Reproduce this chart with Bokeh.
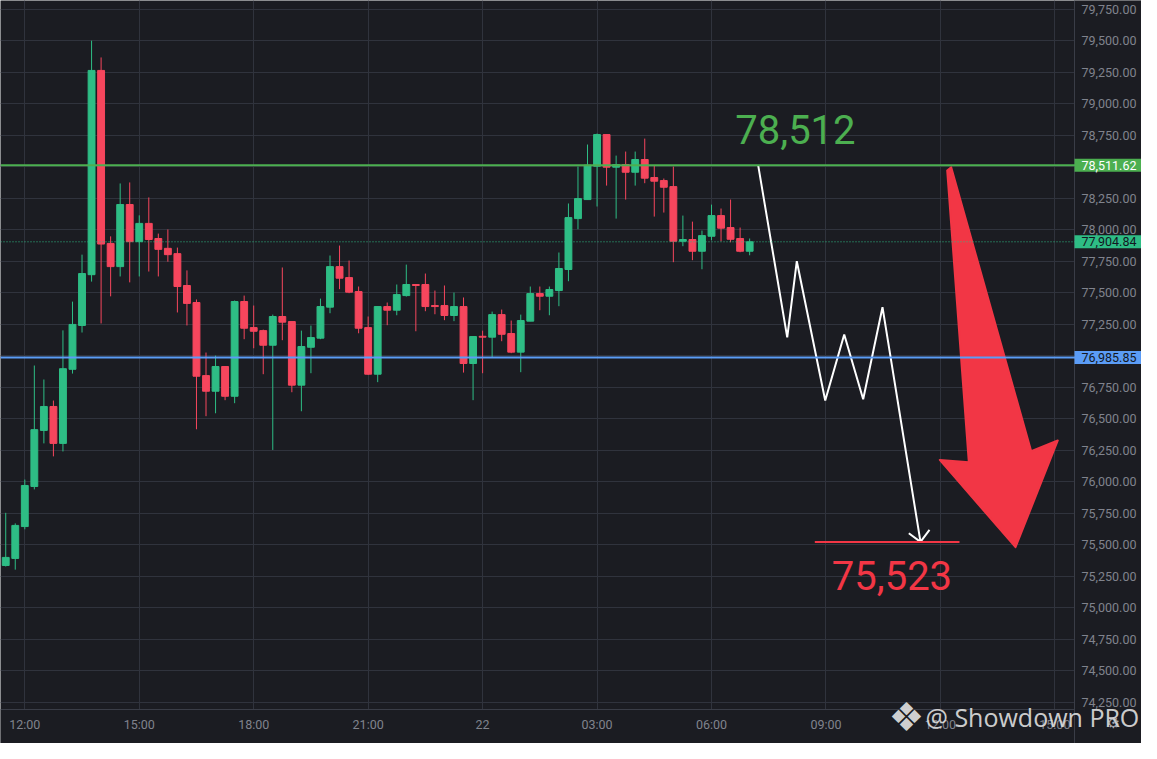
import numpy as np
from bokeh.plotting import figure
from bokeh.models import (ColumnDataSource, FixedTicker, NumeralTickFormatter,
                          Span, Label, Range1d, BoxAnnotation)
from bokeh.embed import file_html
from bokeh.resources import INLINE

# ---------------- data ----------------
first_bar_hour = 11.5      # first 15-minute bar opens at 11:30
bar_hours = 0.25           # 15-minute candles

opens = [75336, 75392, 75645, 75963, 76408, 76598, 76305, 76893, 77241, 77644,
         79265, 77892, 77708, 78201, 77906, 78051, 77931, 77853, 77811, 77558,
         77423, 76843, 76719, 76915, 76679, 77431, 77224, 77200, 77084, 77312,
         77272, 76767, 77068, 77140, 77386, 77708, 77621, 77510, 77224, 76854,
         77391, 77362, 77478, 77566, 77566, 77399, 77399, 77320, 77391, 76939,
         77155, 77148, 77327, 77177, 77029, 77275, 77494, 77473, 77518, 77685,
         78089, 78240, 78505, 78756, 78497, 78518, 78457, 78558, 78415, 78391,
         78343, 77909, 77923, 77830, 77949, 78113, 78018, 77931, 77830]
highs = [75754, 75670, 76018, 76923, 76812, 76645, 77202, 77430, 77803, 79501,
         79368, 77948, 78368, 78376, 78115, 78257, 77970, 78003, 77859, 77678,
         77447, 77026, 77002, 76915, 77439, 77478, 77399, 77208, 77327, 77701,
         77272, 77200, 77240, 77454, 77796, 77875, 77756, 77550, 77312, 77391,
         77423, 77566, 77724, 77566, 77653, 77518, 77558, 77502, 77463, 77153,
         77200, 77351, 77367, 77280, 77327, 77550, 77550, 77550, 77820, 78209,
         78502, 78677, 78764, 78756, 78589, 78621, 78621, 78724, 78510, 78407,
         78502, 78113, 78065, 77994, 78200, 78169, 78240, 78018, 77931]
lows = [75328, 75303, 75623, 75940, 76305, 76202, 76241, 76859, 77185, 77589,
        77257, 77472, 77630, 77583, 77630, 77669, 77630, 77747, 77344, 77241,
        76417, 76521, 76544, 76648, 76624, 77132, 77060, 76854, 76253, 77124,
        76711, 76560, 76862, 77132, 77338, 77529, 77497, 77179, 76850, 76791,
        77243, 77322, 77470, 77195, 77354, 77330, 77283, 77275, 76867, 76648,
        76862, 76989, 77116, 77021, 76870, 77275, 77362, 77322, 77394, 77592,
        78005, 78240, 78185, 78351, 78089, 78240, 78351, 78370, 78105, 78137,
        77743, 77870, 77759, 77687, 77917, 77909, 77901, 77822, 77798]
closes = [75400, 75654, 75971, 76414, 76598, 76305, 76898, 77249, 77653, 79265,
          77887, 77708, 78201, 77906, 78051, 77923, 77845, 77803, 77550, 77416,
          76838, 76719, 76915, 76679, 77431, 77219, 77195, 77084, 77312, 77267,
          76767, 77074, 77145, 77391, 77708, 77616, 77505, 77219, 76854, 77391,
          77362, 77486, 77566, 77558, 77391, 77391, 77320, 77391, 76939, 77153,
          77148, 77327, 77171, 77029, 77280, 77494, 77473, 77526, 77693, 78097,
          78248, 78513, 78756, 78497, 78518, 78457, 78558, 78410, 78386, 78338,
          77909, 77923, 77830, 77954, 78113, 78013, 77925, 77830, 77904.84]

resistance_price = 78511.62
support_price = 76985.85
last_price = 77904.84
target_price = 75523
resistance_text = "78,512"
target_text = "75,523"
watermark_text = "@ Showdown PRO"

time_ticks = [12, 15, 18, 21, 24, 27, 30, 33, 36, 39]
time_labels = ["12:00", "15:00", "18:00", "21:00", "22", "03:00",
               "06:00", "09:00", "12:00", "15:00"]
price_ticks = [74250, 74500, 74750, 75000, 75250, 75500, 75750, 76000,
               76250, 76500, 76750, 77000, 77250, 77500, 77750, 78000,
               78250, 78500, 78750, 79000, 79250, 79500, 79750]

# hand-drawn projection (time in hours, price)
path_hours = [31.224, 31.985, 32.236, 32.981, 33.479, 33.976, 34.482, 35.478]
path_prices = [78511, 77147, 77751, 76645, 77169, 76655, 77386, 75523]
arrowhead_hours = [35.172, 35.478, 35.714]
arrowhead_prices = [75592, 75523, 75619]
target_line_hours = [32.708, 36.5]
big_arrow_hours = [36.283, 38.380, 39.077, 37.969, 35.984, 36.745, 36.178]
big_arrow_prices = [78497, 76243, 76328, 75481, 76174, 76155, 78471]
resistance_text_pos = (32.2, 78796)
target_text_pos = (34.73, 75256)

# ---------------- style / layout ----------------
BG = "#1b1c22"
GRID = "#30333d"
AXIS_LINE = "#3a3d47"
TICK_TXT = "#80838d"
UP = "#2ebd85"
DOWN = "#f6465d"
LINE_GREEN = "#4caf50"
LINE_BLUE = "#5b9cf6"
ANNOT_RED = "#f23645"

W, H = 1141, 743
CHART_W, CHART_H = 1074, 709          # pixel size of the candle pane
px_per_hour = 38.15
px_per_usd = 0.126
x_start = 11.363
x_end = x_start + W / px_per_hour
y_end = 79820
y_start = y_end - H / px_per_usd
x_split = x_start + CHART_W / px_per_hour   # price-scale boundary
y_split = y_end - CHART_H / px_per_usd      # time-scale boundary


def px_x(px):
    return x_start + px / px_per_hour


def px_y(py):
    return y_end - py / px_per_usd


p = figure(width=W, height=H, output_backend="svg", toolbar_location=None,
           x_range=Range1d(x_start, x_end), y_range=Range1d(y_start, y_end),
           y_axis_location="right",
           min_border_left=0, min_border_top=0,
           min_border_right=0, min_border_bottom=0,
           background_fill_color=BG, border_fill_color=BG,
           outline_line_color=None)

# axes drawn inside the canvas at the pane boundaries
p.yaxis.fixed_location = x_split
p.xaxis.fixed_location = y_split
p.xaxis.bounds = (x_start, x_split)
p.yaxis.ticker = FixedTicker(ticks=price_ticks)
p.yaxis.formatter = NumeralTickFormatter(format="0,0.00")
p.xaxis.ticker = FixedTicker(ticks=time_ticks)
p.xaxis.major_label_overrides = {t: l for t, l in zip(time_ticks, time_labels)}
for ax in (p.xaxis, p.yaxis):
    ax.axis_line_color = AXIS_LINE
    ax.axis_line_width = 1
    ax.major_tick_line_color = None
    ax.minor_tick_line_color = None
    ax.major_tick_out = 0
    ax.major_tick_in = 0
    ax.major_label_text_font = "Roboto"
    ax.major_label_text_font_size = "12.5px"
    ax.major_label_text_color = TICK_TXT
    ax.major_label_standoff = 7
p.xgrid.ticker = FixedTicker(ticks=time_ticks)
p.ygrid.ticker = FixedTicker(ticks=price_ticks)
p.xgrid.grid_line_color = GRID
p.ygrid.grid_line_color = GRID

# hide grid inside the scale areas
p.add_layout(BoxAnnotation(left=x_split, fill_color=BG, fill_alpha=1,
                           line_color=None, level="underlay"))
p.add_layout(BoxAnnotation(top=y_split, fill_color=BG, fill_alpha=1,
                           line_color=None, level="underlay"))

# candles
n = len(opens)
t = first_bar_hour + bar_hours * np.arange(n)
o = np.array(opens, dtype=float)
c = np.array(closes, dtype=float)
colors = np.where(c >= o, UP, DOWN)
src = ColumnDataSource(dict(t=t, high=highs, low=lows,
                            top=np.maximum(o, c), bottom=np.minimum(o, c),
                            color=colors))
p.segment(x0="t", y0="high", x1="t", y1="low", line_color="color",
          line_width=1, source=src)
p.vbar(x="t", width=0.18, top="top", bottom="bottom", fill_color="color",
       line_color="color", line_width=1, source=src)

# price lines
p.add_layout(Span(location=resistance_price, dimension="width",
                  line_color=LINE_GREEN, line_width=2))
p.add_layout(Span(location=support_price, dimension="width",
                  line_color=LINE_BLUE, line_width=2))
p.add_layout(Span(location=last_price, dimension="width",
                  line_color=UP, line_width=1, line_dash="1 2"))

# projection drawing
p.line(path_hours, path_prices, line_color="white", line_width=2)
p.line(arrowhead_hours, arrowhead_prices, line_color="white", line_width=2)
p.line(target_line_hours, [target_price, target_price], line_color=ANNOT_RED,
       line_width=2)
p.patch(big_arrow_hours, big_arrow_prices, fill_color=ANNOT_RED,
        line_color=ANNOT_RED, line_width=2, line_join="round")

p.add_layout(Label(x=resistance_text_pos[0], y=resistance_text_pos[1],
                   text=resistance_text, text_align="center",
                   text_baseline="middle", text_font="Roboto",
                   text_font_size="40px", text_color=LINE_GREEN))
p.add_layout(Label(x=target_text_pos[0], y=target_text_pos[1],
                   text=target_text, text_align="center",
                   text_baseline="middle", text_font="Roboto",
                   text_font_size="40px", text_color=ANNOT_RED))

# price-scale tags
for price, bg, fg in ((resistance_price, LINE_GREEN, "#ffffff"),
                      (last_price, UP, "#131722"),
                      (support_price, LINE_BLUE, "#131722")):
    p.add_layout(Label(x=x_split, y=price, text=f"{price:,.2f}",
                       text_align="left", text_baseline="middle",
                       text_font="Roboto", text_font_size="12.5px",
                       text_color=fg, background_fill_color=bg,
                       padding=(7, 6, 2, 2)))

# watermark
p.add_layout(Label(x=px_x(906), y=px_y(716), text="\u2756", text_align="center",
                   text_baseline="middle", text_font="DejaVu Sans",
                   text_font_size="40px", text_color="#e8e8e8",
                   text_alpha=0.9))
p.add_layout(Label(x=px_x(925), y=px_y(716), text=watermark_text,
                   text_align="left", text_baseline="middle",
                   text_font="Open Sans", text_font_size="25px",
                   text_color="#e4e4e4", text_alpha=0.9))
p.add_layout(Label(x=px_x(1113), y=px_y(722), text="\u2699",
                   text_align="center", text_baseline="middle",
                   text_font="DejaVu Sans", text_font_size="15px",
                   text_color="#d0d0d4", text_alpha=0.8))

open("out.html", "w").write(file_html(p, INLINE))
